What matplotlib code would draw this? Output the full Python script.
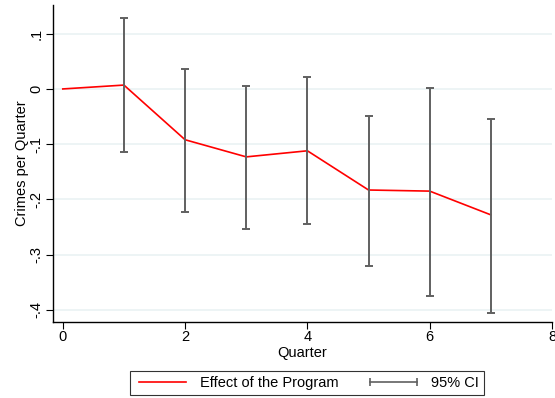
import numpy as np
import matplotlib
matplotlib.use("Agg")
import matplotlib.pyplot as plt
from matplotlib.lines import Line2D

plt.rcParams['font.family'] = ['Liberation Sans', 'DejaVu Sans']

# Quarterly effect estimates with 95% confidence bounds
quarters = [0, 1, 2, 3, 4, 5, 6, 7]
effect = [0.0, 0.007, -0.092, -0.123, -0.112, -0.183, -0.185, -0.228]
ci_low = [np.nan, -0.114, -0.223, -0.254, -0.245, -0.321, -0.375, -0.406]
ci_high = [np.nan, 0.129, 0.036, 0.006, 0.022, -0.049, 0.002, -0.054]

x_ticks = [0, 2, 4, 6, 8]
y_ticks = [0.1, 0.0, -0.1, -0.2, -0.3, -0.4]
y_labels = ['.1', '0', '-.1', '-.2', '-.3', '-.4']

ci_color = '#606060'

fig = plt.figure(figsize=(5.55, 3.98), dpi=100)
ax = fig.add_axes([53 / 555, 1 - 322 / 398, 499 / 555, 317 / 398])

effect = np.array(effect)
lo = np.array(ci_low)
hi = np.array(ci_high)
mask = ~np.isnan(lo)
q = np.array(quarters)

ax.plot(q, effect, color='red', lw=1.2, zorder=2)
ax.vlines(q[mask], lo[mask], hi[mask], color=ci_color, lw=1.4, zorder=3)
ax.hlines(lo[mask], q[mask] - 0.065, q[mask] + 0.065, color=ci_color, lw=1.4, zorder=3)
ax.hlines(hi[mask], q[mask] - 0.065, q[mask] + 0.065, color=ci_color, lw=1.4, zorder=3)

ax.set_xlim(-0.16, 8.0)
ax.set_ylim(-0.422, 0.152)
ax.set_xticks(x_ticks)
ax.set_yticks(y_ticks)
ax.set_yticklabels(y_labels, rotation=90, va='center')
ax.tick_params(labelsize=10.5, length=5, width=0.8, color='black')
ax.tick_params(axis='x', pad=1)
ax.tick_params(axis='y', pad=2)
ax.grid(axis='y', color='#eaf2f3', lw=1.2)
ax.set_axisbelow(True)
for s in ['top', 'right']:
    ax.spines[s].set_visible(False)
for s in ['left', 'bottom']:
    ax.spines[s].set_linewidth(1.0)

ax.set_xlabel('Quarter', fontsize=10.5, labelpad=1)
ax.set_ylabel('Crimes per Quarter', fontsize=10.5, labelpad=0)

handles = [
    Line2D([], [], color='red', lw=1.2),
    Line2D([], [], color=ci_color, lw=1.2, marker='|', markersize=6, markeredgewidth=1.2),
]
leg = fig.legend(handles, ['Effect of the Program', '95% CI'], loc='center',
                 bbox_to_anchor=(307 / 555, 1 - 383 / 398), ncol=2, numpoints=2,
                 fontsize=10.5, frameon=True, fancybox=False, edgecolor='black',
                 handlelength=3.8, handletextpad=0.7, columnspacing=1.85,
                 borderpad=0.35)
leg.get_frame().set_linewidth(0.8)

fig.savefig('out.png', dpi=100)
